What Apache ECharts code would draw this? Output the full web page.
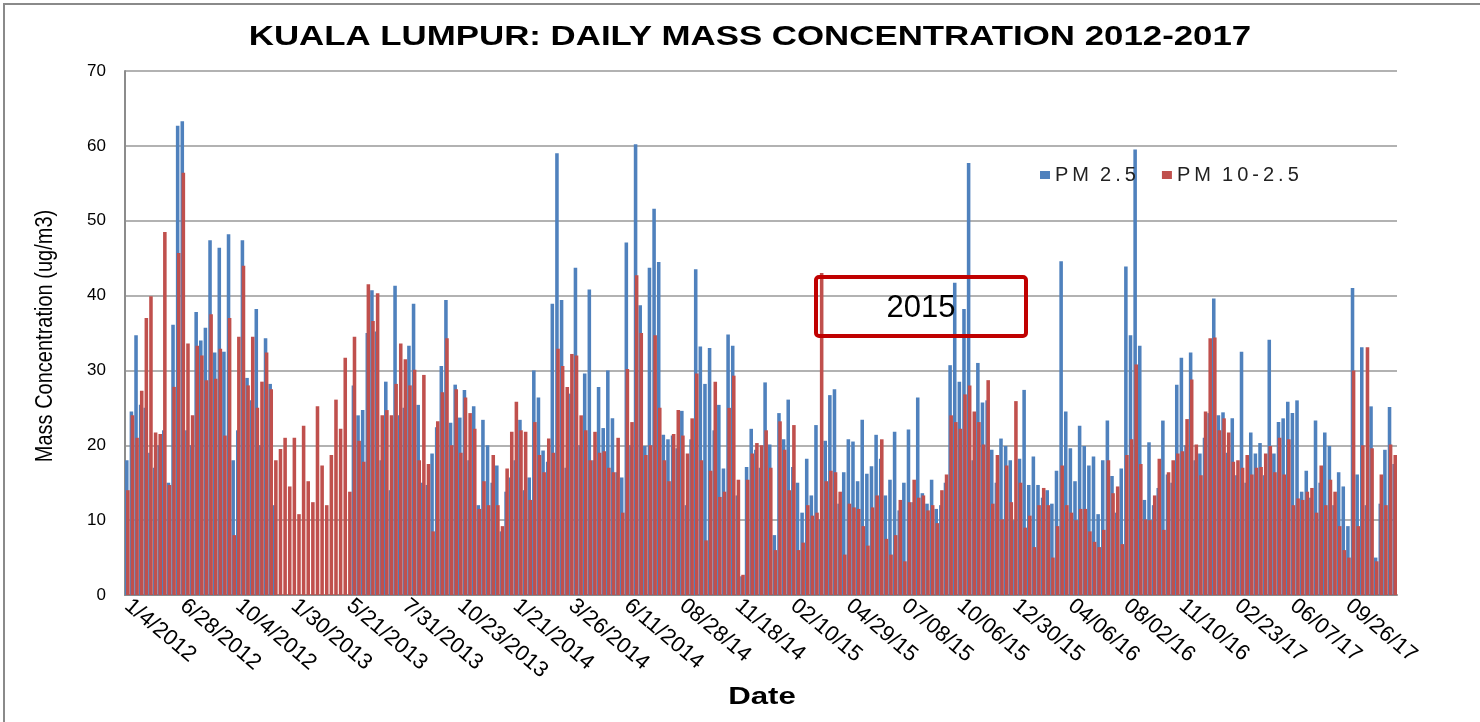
<!DOCTYPE html>
<html>
<head>
<meta charset="utf-8">
<script src="https://cdn.jsdelivr.net/npm/echarts@6/dist/echarts.min.js"></script>
<style>
html,body{margin:0;padding:0;background:#fff;}
#chart{width:1480px;height:722px;}
</style>
</head>
<body>
<div id="chart"></div>
<script>
// Tick labels shown every LABEL_STEP samples
const tickLabels = ['1/4/2012','6/28/2012','10/4/2012','1/30/2013','5/21/2013','7/31/2013','10/23/2013','1/21/2014','3/26/2014','6/11/2014','08/28/14','11/18/14','02/10/15','04/29/15','07/08/15','10/06/15','12/30/15','04/06/16','08/02/16','11/10/16','02/23/17','06/07/17','09/26/17'];
const LABEL_STEP = 12;

// PM 2.5 (ug/m3) (null = no data)
const pm25 = [
18,24.5,34.7,25.4,25,19,17,20,22,15,36.1,62.7,63.3,22,20,37.8,34,35.7,47.4,32.4,
46.4,32.5,48.2,18,22,47.4,29,26,38.2,20,34.3,28.2,12,null,null,null,null,null,null,null,
null,null,null,null,null,null,null,null,null,28,24,24.7,35,40.7,35.2,18,28.5,14,41.3,24,
25,33.3,38.9,25.4,15,14.7,18.9,22.4,30.6,39.4,23,28.1,23.7,27.4,18,25.2,12,23.4,20,15,
17.3,8.5,13.8,15.7,18,23.4,14,15.7,30,26.4,19.3,17.8,38.9,59,39.4,17,26.9,43.7,20,29.6,
40.8,18,27.8,22.3,30,23.6,16.4,15.7,47.1,20,60.2,38.7,19.9,43.7,51.6,44.5,21.4,20.8,21.3,19.6,
24.6,12,20.8,43.5,33.2,28.2,33,22,25.4,16.9,34.8,33.3,13.3,2.5,17.1,22.2,19.4,17,28.4,20.1,
8,24.3,20.8,26.1,17.1,15,11,18.2,13.3,22.7,10.1,20.6,26.7,27.5,12.2,16.4,20.8,20.5,15.2,23.4,
16.2,17.2,21.4,18.2,13.3,15.4,21.8,11.3,15,22.1,12.4,26.4,13.6,12.2,15.4,11.5,12,15,30.7,41.7,
28.5,38.2,57.7,18,31,25.7,26,19.4,15,20.9,19.9,18,10,18.2,27.4,14.7,18.5,14.7,13,14,
12.2,16.6,44.6,24.5,19.6,15.2,22.6,19.9,17.3,18.5,10.8,18,23.3,15.9,11,16.9,43.9,34.7,59.5,33.3,
12.7,20.4,12,14.3,23.3,16.1,15,28.1,31.7,20,32.4,18,18.9,21,24.3,39.6,24,24.4,19,23.6,
16,32.5,15,21.7,18.9,20.3,16,34.1,18.9,23.1,23.6,25.8,24.3,26,13.8,16.6,13,23.3,15,21.7,
19.9,12,16.4,14.5,9.2,41,16.1,33.1,12,25.2,5,12.2,19.4,25.1,17.5
];

// PM 10-2.5 (ug/m3)
const pm10 = [
14,24,21,27.3,37,39.9,21.7,21.5,48.5,14.7,27.8,45.7,56.4,33.6,24,33.3,32,28.7,37.5,28.9,
32.9,21.3,37,8,34.5,44,28,34.5,25,28.5,32.4,27.5,18,19.5,21,14.5,21,10.8,22.6,15.2,
12.4,25.2,17.3,12,18.7,26.1,22.2,31.7,13.8,34.5,20.6,17.8,41.5,36.6,40.3,24,24.7,24,28.2,33.6,
31.5,28,30.1,18,29.4,17.5,8.5,23.2,27.1,34.3,20,27.5,19,26.4,24.3,22.2,11.5,15.2,12,18.7,
12,9.2,16.9,21.8,25.8,22,21.8,12.7,23.1,18.7,16.4,20.9,19,32.9,30.6,27.8,32.2,32,24,22,
18,21.8,19,19.2,17,16.4,21,11,30.2,23.1,42.7,35,18.7,20,34.7,25,18,15.2,21.5,24.7,
21.3,18.9,23.6,29.6,18,7.3,16.6,28.5,13.1,13.8,25,29.3,15.4,2.7,15.4,18.9,20.3,20,22,17,
6,23.2,19.4,14,22.7,6,7,12,10.6,11,43,15.2,16.6,16.4,13.8,5.4,12.2,11.7,11.5,9.2,
6.6,11.7,13.3,20.8,7.5,5.4,8,12.7,4.5,12.4,15.4,13,13.3,11.3,12,9.6,14,16.1,24,23.1,
22.2,26.8,28,24.5,23.1,20.1,28.7,12.2,18.7,10.1,17.3,12.4,25.9,15,9,10.6,6.4,12,14.3,12,
5,9.2,17.3,12,11,10,11.5,11.5,8.5,7.1,6.4,8.7,18,13.6,14.5,6.8,18.7,20.8,30.8,17.5,
10.1,10,13.3,18.2,8.7,16.4,18,18.9,19.2,23.5,28.8,20.1,16,24.5,34.3,34.4,22,23.6,21.7,17.8,
18,17,18.7,16.1,17,17.1,18.9,19.9,16.4,21,16.1,20.8,12,12.9,12.7,13.8,14.3,11,17.3,12,
15.4,13.8,9.2,6,5,30,9.2,20,33.1,19.6,4.5,16.1,12,20.1,18.7
];

const categories = pm25.map((_, i) => (i % LABEL_STEP === 0 ? tickLabels[i / LABEL_STEP] : 'd' + i));

const FONT = "'Liberation Sans', Arial, sans-serif";
const chart = echarts.init(document.getElementById('chart'), null, {renderer: 'canvas'});

chart.setOption({
  animation: false,
  backgroundColor: '#ffffff',
  grid: {left: 125, right: 83, top: 71, bottom: 127, containLabel: false},
  legend: {
    left: 1035, top: 160,
    itemWidth: 10, itemHeight: 8, itemGap: 26,
    icon: 'rect',
    textStyle: {fontFamily: FONT, fontSize: 20, color: '#222'},
    formatter: name => name.split(' ').map(w => w.split('').join('\u2009')).join('  '),
    data: ['PM 2.5', 'PM 10-2.5']
  },
  xAxis: {
    type: 'category',
    data: categories,
    boundaryGap: true,
    axisLine: {show: true, lineStyle: {color: '#8c8c8c', width: 2}},
    axisTick: {show: false},
    splitLine: {show: false},
    axisLabel: {
      interval: LABEL_STEP - 1,
      rotate: -40,
      margin: 8,
      fontFamily: FONT,
      fontSize: 22,
      color: '#000',
      formatter: (v, idx) => (idx % LABEL_STEP === 0 ? tickLabels[idx / LABEL_STEP] : '')
    }
  },
  yAxis: {
    type: 'value',
    min: 0, max: 70, interval: 10,
    axisLine: {show: true, lineStyle: {color: '#8c8c8c', width: 2}},
    axisTick: {show: false},
    splitLine: {show: true, lineStyle: {color: '#999999', width: 1.5}},
    axisLabel: {margin: 19, fontFamily: FONT, fontSize: 17, color: '#000'}
  },
  series: [
    {
      name: 'PM 2.5', type: 'bar', data: pm25,
      barCategoryGap: '0%', barGap: '-70%',
      itemStyle: {color: '#4F81BD'},
      emphasis: {disabled: true}
    },
    {
      name: 'PM 10-2.5', type: 'bar', data: pm10,
      itemStyle: {color: '#C0504D'},
      emphasis: {disabled: true}
    }
  ],
  graphic: [
    {type: 'polyline', shape: {points: [[4, 722], [4, 4], [1480, 4]]}, style: {stroke: '#8a8a8a', lineWidth: 2, fill: null}, z: 100},
    {type: 'text', x: 750, y: 38, scaleX: 1.29, style: {text: 'KUALA LUMPUR: DAILY MASS CONCENTRATION 2012-2017', font: 'bold 27px ' + FONT, fill: '#000', textAlign: 'center', textVerticalAlign: 'middle'}, z: 100},
    {type: 'text', x: 45, y: 336, rotation: Math.PI / 2, scaleY: 1.22, style: {text: 'Mass Concentration (ug/m3)', font: '20px ' + FONT, fill: '#000', textAlign: 'center', textVerticalAlign: 'middle'}, z: 100},
    {type: 'text', x: 762, y: 697, scaleX: 1.3, style: {text: 'Date', font: 'bold 24px ' + FONT, fill: '#000', textAlign: 'center', textVerticalAlign: 'middle'}, z: 100},
    {type: 'rect', shape: {x: 816, y: 277, width: 210, height: 59, r: 3}, style: {fill: null, stroke: '#C00000', lineWidth: 4}, z: 100},
    {type: 'text', x: 921, y: 308, style: {text: '2015', font: '31px ' + FONT, fill: '#000', textAlign: 'center', textVerticalAlign: 'middle'}, z: 100}
  ]
});
</script>
</body>
</html>
